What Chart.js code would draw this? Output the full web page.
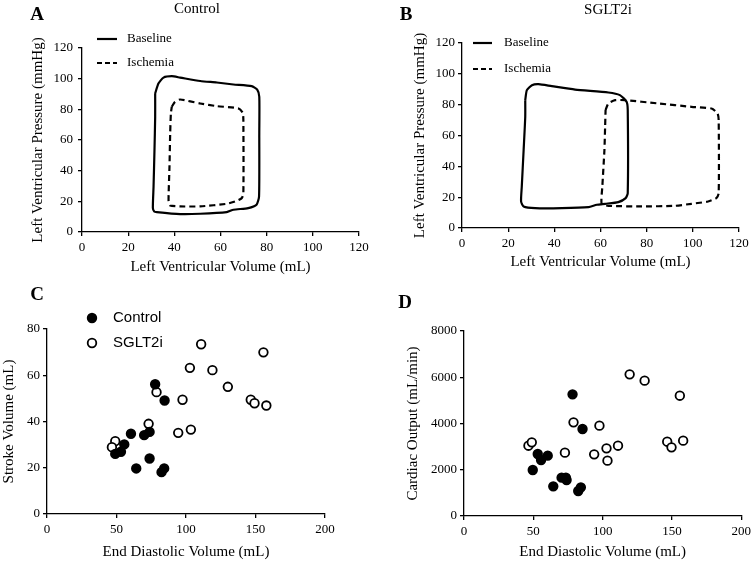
<!DOCTYPE html>
<html>
<head>
<meta charset="utf-8">
<script src="https://cdn.jsdelivr.net/npm/chart.js@4"></script>
<style>
  body { margin: 0; background: #fff; }
  #wrap { position: relative; width: 755px; height: 562px; }
  canvas { position: absolute; }
</style>
</head>
<body>
<div id="wrap">
  <canvas id="pa" width="377" height="280" style="left:0;top:0"></canvas>
  <canvas id="pb" width="378" height="280" style="left:377px;top:0"></canvas>
  <canvas id="pc" width="377" height="282" style="left:0;top:280px"></canvas>
  <canvas id="pd" width="378" height="282" style="left:377px;top:280px"></canvas>
</div>
<script>
// PV loops, panel A (Control)
const ctrlBaseVol = [31.7, 33.1, 35.3, 38.9, 42.5, 51.2, 58.4, 65.6, 73.5, 75.9, 76.8, 76.8, 76.7, 75.6, 72.0, 65.6, 62.7, 51.2, 42.5, 32.4, 31.3, 30.7, 31.0, 31.4, 31.7, 31.7];
const ctrlBasePres = [90.3, 96.8, 100.7, 101.6, 100.7, 98.5, 97.5, 96.2, 95.1, 92.9, 88.2, 64.3, 23.2, 17.8, 15.6, 14.5, 13.0, 11.9, 11.7, 13.0, 13.4, 15.6, 29.7, 53.5, 75.2, 90.3];
const ctrlIschVol = [38.9, 40.3, 42.5, 51.2, 58.4, 67.7, 69.6, 69.9, 69.9, 69.2, 66.3, 62.7, 51.2, 42.5, 38.2, 37.5, 37.9, 38.2, 38.5, 38.9];
const ctrlIschPres = [81.7, 84.9, 86.4, 83.8, 82.1, 80.6, 77.8, 73.0, 25.3, 22.1, 19.9, 18.4, 16.7, 16.7, 17.3, 19.9, 42.7, 64.3, 77.3, 81.7];

// PV loops, panel B (SGLT2i)
const sgltBaseVol = [27.4, 28.1, 30.3, 33.1, 38.9, 49.0, 63.4, 68.4, 71.3, 71.8, 71.8, 70.9, 67.7, 62.0, 58.4, 54.8, 43.2, 31.7, 26.7, 25.6, 25.9, 26.7, 27.4, 27.4];
const sgltBasePres = [82.9, 89.4, 92.6, 93.3, 92.0, 89.8, 87.9, 86.2, 81.9, 76.5, 22.6, 19.4, 16.8, 15.7, 15.1, 13.6, 12.9, 12.9, 14.0, 17.2, 26.9, 50.6, 72.2, 82.9];
const sgltIschVol = [62.2, 63.4, 66.3, 70.6, 85.0, 99.4, 108.1, 110.7, 111.2, 111.2, 110.2, 106.6, 99.4, 92.2, 77.8, 63.4, 60.5, 60.8, 61.7, 62.0, 62.2];
const sgltIschPres = [76.5, 80.8, 82.9, 82.9, 80.8, 78.6, 77.5, 74.3, 70.0, 22.6, 19.4, 17.2, 15.7, 14.4, 14.0, 14.4, 15.7, 26.9, 50.6, 65.7, 76.5];

// Panel C: stroke volume vs EDV
const svCtrlEdv = [77.8, 84.6, 60.4, 69.9, 73.8, 55.6, 49.1, 53.2, 73.8, 64.2, 84.3, 82.4];
const svCtrl = [56.1, 49.1, 34.7, 34.1, 35.5, 30.1, 26.0, 26.9, 24.0, 19.7, 19.7, 18.1];
const svSgltEdv = [110.9, 155.7, 102.8, 119.0, 130.1, 78.8, 97.5, 146.6, 149.3, 157.8, 73.1, 103.5, 94.4, 49.1, 46.7];
const svSglt = [73.4, 69.9, 63.2, 62.2, 55.0, 52.7, 49.4, 49.4, 47.9, 46.9, 39.0, 36.5, 35.1, 31.5, 28.9];

// Panel D: cardiac output vs EDV
const coCtrlEdv = [78.3, 85.5, 49.6, 53.2, 55.6, 60.4, 70.4, 73.5, 74.0, 64.4, 82.4, 84.3];
const coCtrl = [5261, 3762, 1989, 2681, 2422, 2609, 1658, 1658, 1557, 1283, 1081, 1240];
const coSgltEdv = [119.5, 130.3, 155.7, 79.0, 97.7, 146.6, 149.7, 158.1, 46.5, 48.9, 72.8, 93.9, 102.8, 103.5, 111.1];
const coSglt = [6126, 5852, 5203, 4050, 3906, 3214, 2969, 3258, 3041, 3185, 2739, 2667, 2926, 2393, 3041];

const serif = "'Times New Roman', 'Liberation Serif', serif";
const sans = "Arial, 'Liberation Sans', sans-serif";

const pts = (xs, ys) => xs.map((x, i) => ({ x: x, y: ys[i] }));

function axis(min, max, step, title, tickPad, size, isX) {
  return {
    type: 'linear',
    min: min,
    max: max,
    ticks: { stepSize: step, color: '#000', padding: tickPad, maxRotation: 0,
             font: { family: serif, size: 13 }, callback: v => String(v) },
    grid: { drawOnChartArea: false, drawTicks: true, tickLength: 4, color: '#000', lineWidth: 1.3 },
    border: { display: true, color: '#000', width: 1.3 },
    title: { display: true, text: title, color: '#000', padding: 0, font: { family: serif, size: 15 } },
    afterFit: s => { if (isX) s.height = size; else s.width = size; }
  };
}

// letters, titles and legends drawn on the canvas
const panelText = {
  id: 'panelText',
  afterDraw(chart, args, o) {
    const ctx = chart.ctx;
    ctx.save();
    ctx.fillStyle = '#000';
    ctx.strokeStyle = '#000';
    ctx.textBaseline = 'middle';
    ctx.textAlign = 'center';
    ctx.font = 'bold 19px ' + serif;
    ctx.fillText(o.letter[0], o.letter[1], o.letter[2]);
    if (o.title) {
      ctx.font = '15px ' + serif;
      ctx.fillText(o.title[0], o.title[1], o.title[2]);
    }
    ctx.textAlign = 'left';
    (o.lines || []).forEach(l => {
      ctx.lineWidth = 2.2;
      ctx.setLineDash(l.dash);
      ctx.beginPath();
      ctx.moveTo(l.x1, l.y);
      ctx.lineTo(l.x2, l.y);
      ctx.stroke();
      ctx.setLineDash([]);
      ctx.font = '13px ' + serif;
      ctx.fillText(l.text, l.tx, l.y);
    });
    (o.dots || []).forEach(d => {
      ctx.lineWidth = 1.8;
      ctx.beginPath();
      ctx.arc(d.x, d.y, 4.3, 0, Math.PI * 2);
      ctx.fillStyle = d.fill;
      ctx.fill();
      ctx.stroke();
      ctx.fillStyle = '#000';
      ctx.font = '15px ' + sans;
      ctx.fillText(d.text, d.tx, d.y);
    });
    ctx.restore();
  }
};

function loopSet(data, dash) {
  return { data: data, showLine: true, borderColor: '#000', borderWidth: 2.2, borderDash: dash, pointRadius: 0, tension: 0.2, fill: false };
}
function dotSet(data, fill) {
  return { data: data, showLine: false, pointRadius: 4.3, pointBorderWidth: 1.8, pointBorderColor: '#000', pointBackgroundColor: fill };
}

function make(id, datasets, pad, scales, text) {
  new Chart(document.getElementById(id), {
    type: 'scatter',
    data: { datasets: datasets },
    options: {
      responsive: false,
      animation: false,
      devicePixelRatio: 1,
      layout: { padding: pad },
      plugins: { legend: { display: false }, tooltip: { enabled: false }, panelText: text },
      scales: scales
    },
    plugins: [panelText]
  });
}

make('pa',
  [loopSet(pts(ctrlBaseVol, ctrlBasePres), []), loopSet(pts(ctrlIschVol, ctrlIschPres), [6, 4])],
  { left: 29, top: 48, right: 18, bottom: 4 },
  { x: axis(0, 120, 20, 'Left Ventricular Volume (mL)', 4, 44, true),
    y: axis(0, 120, 20, 'Left Ventricular Pressure (mmHg)', 5, 53, false) },
  { letter: ['A', 37, 15], title: ['Control', 197, 9],
    lines: [{ x1: 97, x2: 117, y: 39, dash: [], text: 'Baseline', tx: 127 },
            { x1: 97, x2: 117, y: 63, dash: [5, 3], text: 'Ischemia', tx: 127 }] });

make('pb',
  [loopSet(pts(sgltBaseVol, sgltBasePres), []), loopSet(pts(sgltIschVol, sgltIschPres), [6, 4])],
  { left: 34, top: 43, right: 16, bottom: 9 },
  { x: axis(0, 120, 20, 'Left Ventricular Volume (mL)', 4, 43, true),
    y: axis(0, 120, 20, 'Left Ventricular Pressure (mmHg)', 3, 51, false) },
  { letter: ['B', 29, 15], title: ['SGLT2i', 231, 10],
    lines: [{ x1: 96, x2: 115, y: 43, dash: [], text: 'Baseline', tx: 127 },
            { x1: 96, x2: 115, y: 69, dash: [5, 3], text: 'Ischemia', tx: 127 }] });

make('pc',
  [dotSet(pts(svCtrlEdv, svCtrl), '#000'), dotSet(pts(svSgltEdv, svSglt), '#fff')],
  { left: 0, top: 49, right: 52, bottom: 1 },
  { x: axis(0, 200, 50, 'End Diastolic Volume (mL)', 4, 47, true),
    y: axis(0, 80, 20, 'Stroke Volume (mL)', 3, 47, false) },
  { letter: ['C', 37, 15],
    dots: [{ x: 92, y: 38, fill: '#000', text: 'Control', tx: 113 },
           { x: 92, y: 63, fill: '#fff', text: 'SGLT2i', tx: 113 }] });

make('pd',
  [dotSet(pts(coCtrlEdv, coCtrl), '#000'), dotSet(pts(coSgltEdv, coSglt), '#fff')],
  { left: 27, top: 51, right: 12, bottom: 1 },
  { x: axis(0, 200, 50, 'End Diastolic Volume (mL)', 4, 45, true),
    y: axis(0, 8000, 2000, 'Cardiac Output (mL/min)', 3, 60, false) },
  { letter: ['D', 28, 23] });
</script>
</body>
</html>
